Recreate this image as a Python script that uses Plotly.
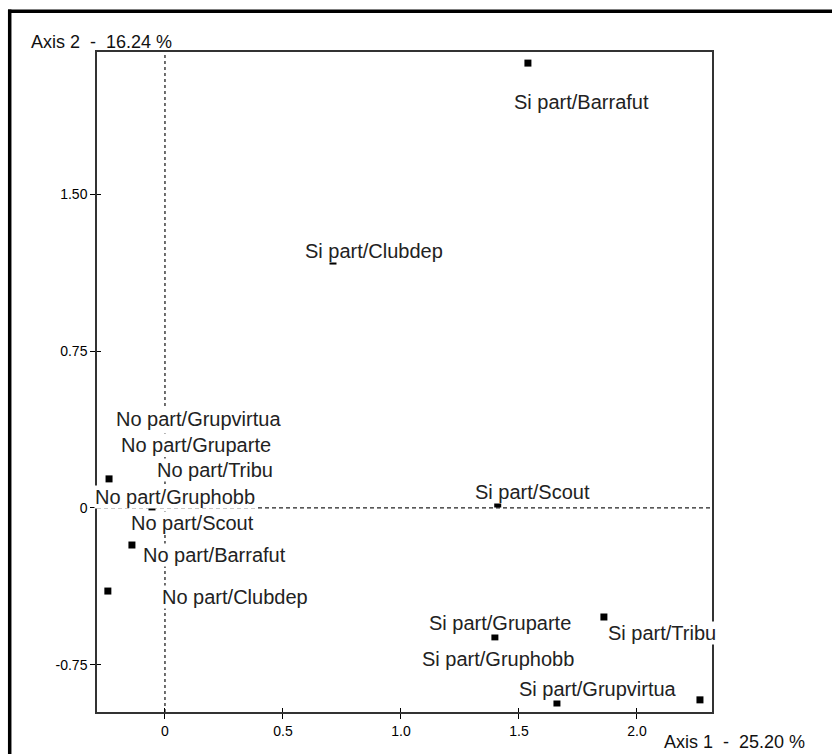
import plotly.graph_objects as go

# ---------------- data ----------------
si_categories = ["Barrafut", "Clubdep", "Scout", "Gruparte", "Gruphobb", "Grupvirtua", "Tribu"]
si_axis1 = [1.538, 0.712, 1.41, 1.398, 1.661, 2.267, 1.860]
si_axis2 = [2.126, 1.180, 0.019, -0.616, -0.932, -0.917, -0.521]

no_categories = ["Grupvirtua", "Gruparte", "Tribu", "Gruphobb", "Scout", "Barrafut", "Clubdep"]
no_axis1 = [-0.068, -0.097, -0.093, -0.237, -0.055, -0.140, -0.242]
no_axis2 = [0.029, 0.043, 0.024, 0.139, 0.005, -0.177, -0.397]

x_tickvals = [0, 0.5, 1.0, 1.5, 2.0]
x_ticktext = ["0", "0.5", "1.0", "1.5", "2.0"]
y_tickvals = [-0.75, 0, 0.75, 1.5]
y_ticktext = ["-0.75", "0", "0.75", "1.50"]

axis1_title = "Axis 1  -  25.20 %"
axis2_title = "Axis 2  -  16.24 %"

# ---------------- layout / style ----------------
W, H = 832, 754
M = dict(l=97, r=120, t=52, b=42)
X_RANGE = [-0.288, 2.318]
Y_RANGE = [-0.975, 2.179]

# label centre offsets from the point, in pixels (right, up)
LABEL_SHIFT = {
    "Si part/Barrafut": (54, -39),
    "Si part/Clubdep": (41, 10),
    "Si part/Scout": (35, 12),
    "Si part/Gruparte": (5, 14),
    "Si part/Gruphobb": (-59, 44),
    "Si part/Grupvirtua": (-102, 11),
    "Si part/Tribu": (58, -16),
    "No part/Grupvirtua": (50, 83),
    "No part/Gruparte": (54, 54),
    "No part/Tribu": (72, 33),
    "No part/Gruphobb": (66, -18),
    "No part/Scout": (41, -16),
    "No part/Barrafut": (83, -10),
    "No part/Clubdep": (127, -6),
}

FONT = "Liberation Sans, Arial, sans-serif"

xs = si_axis1 + no_axis1
ys = si_axis2 + no_axis2
names = ["Si part/" + c for c in si_categories] + ["No part/" + c for c in no_categories]

fig = go.Figure()
fig.add_trace(go.Scatter(
    x=xs, y=ys, mode="markers", text=names, hoverinfo="text",
    marker=dict(symbol="square", size=7, color="black", line=dict(width=0)),
    showlegend=False,
))
# invisible copy on overlay axes (used only to draw the inner half of the ticks)
fig.add_trace(go.Scatter(
    x=xs, y=ys, mode="markers", xaxis="x2", yaxis="y2",
    marker=dict(size=1, opacity=0), hoverinfo="skip", showlegend=False,
))

# labels, drawn bottom-to-top so upper boxes cover lower ones
order = sorted(range(len(names)), key=lambda i: ys[i] + LABEL_SHIFT[names[i]][1] / 209.3)
for i in order:
    dx, dy = LABEL_SHIFT[names[i]]
    fig.add_annotation(
        x=xs[i], y=ys[i], xref="x", yref="y", text=names[i], showarrow=False,
        xshift=dx, yshift=dy, xanchor="center", yanchor="middle",
        font=dict(family=FONT, size=20, color="#222"),
        bgcolor="white", borderpad=0,
    )

pw = W - M["l"] - M["r"]
ph = H - M["t"] - M["b"]


def px_x(p):
    return (p - M["l"]) / pw


def px_y(p):
    return (H - M["b"] - p) / ph


fig.add_annotation(x=px_x(29), y=px_y(42), xref="paper", yref="paper", text=axis2_title,
                   showarrow=False, xanchor="left", yanchor="middle",
                   font=dict(family=FONT, size=18, color="#111"))
fig.add_annotation(x=px_x(807), y=px_y(742), xref="paper", yref="paper", text=axis1_title,
                   showarrow=False, xanchor="right", yanchor="middle",
                   font=dict(family=FONT, size=18, color="#111"))

# dashed origin lines
fig.add_shape(type="line", xref="x", yref="paper", x0=0, x1=0, y0=0, y1=1,
              line=dict(color="#222", width=1.3, dash="3px,3px"), layer="below")
fig.add_shape(type="line", xref="paper", yref="y", x0=0, x1=1, y0=0, y1=0,
              line=dict(color="#222", width=1.3, dash="4px,3px"), layer="below")

# outer frame (left and top visible)
fig.add_shape(type="line", xref="paper", yref="paper", x0=px_x(9.7), x1=px_x(9.7),
              y0=px_y(9.5), y1=px_y(H + 20), line=dict(color="black", width=3.5))
fig.add_shape(type="line", xref="paper", yref="paper", x0=px_x(8), x1=px_x(W + 20),
              y0=px_y(11.3), y1=px_y(11.3), line=dict(color="black", width=3.5))

tickfont = dict(family=FONT, size=14, color="black")
fig.update_layout(
    width=W, height=H, margin=M,
    paper_bgcolor="white", plot_bgcolor="white",
    xaxis=dict(range=X_RANGE, tickvals=x_tickvals, ticktext=x_ticktext, ticks="outside",
               ticklen=5, tickcolor="black", tickwidth=1, showgrid=False, zeroline=False,
               showline=True, mirror=True, linecolor="#333", linewidth=1.5, tickfont=tickfont,
               fixedrange=True),
    yaxis=dict(range=Y_RANGE, tickvals=y_tickvals, ticktext=y_ticktext, ticks="outside",
               ticklen=5, tickcolor="black", tickwidth=1, showgrid=False, zeroline=False,
               showline=True, mirror=True, linecolor="#333", linewidth=1.5, tickfont=tickfont,
               fixedrange=True),
    xaxis2=dict(range=X_RANGE, overlaying="x", anchor="y", side="bottom", tickvals=x_tickvals,
                ticks="inside", ticklen=4, tickcolor="black", tickwidth=1, showticklabels=False,
                showgrid=False, zeroline=False, showline=False, fixedrange=True),
    yaxis2=dict(range=Y_RANGE, overlaying="y", anchor="x", side="left", tickvals=y_tickvals,
                ticks="inside", ticklen=4, tickcolor="black", tickwidth=1, showticklabels=False,
                showgrid=False, zeroline=False, showline=False, fixedrange=True),
)

fig.write_html(
    "out.html",
    config={"displayModeBar": False},
    post_script="document.body.style.margin='0';document.body.style.overflow='hidden';",
)
